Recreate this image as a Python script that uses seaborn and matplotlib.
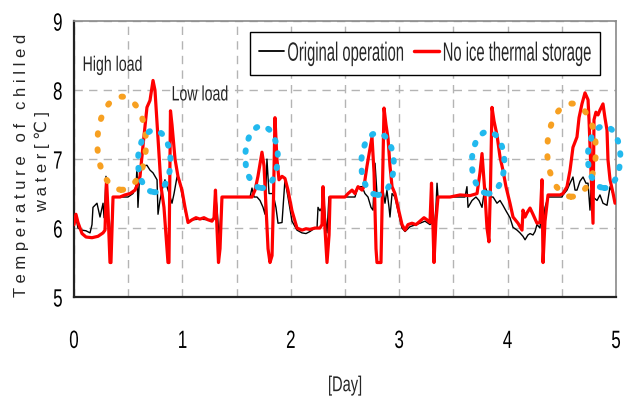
import numpy as np
import pandas as pd
import matplotlib
matplotlib.use("Agg")
import matplotlib.pyplot as plt
import seaborn as sns
from matplotlib.patches import Ellipse
from matplotlib.patheffects import AbstractPathEffect
from matplotlib.transforms import Affine2D, Bbox
from matplotlib.offsetbox import TextArea

# ---------------- data ----------------
red_day = [0.000, 0.018, 0.037, 0.074, 0.111, 0.166, 0.221, 0.268, 0.286, 0.300, 0.314, 0.332, 0.341, 0.360,
           0.424, 0.470, 0.517, 0.563, 0.590, 0.609, 0.637, 0.673, 0.701, 0.729, 0.747, 0.775, 0.803, 0.830,
           0.849, 0.867, 0.876, 0.890, 0.904, 0.932, 0.959, 0.996, 1.024, 1.052, 1.089, 1.125, 1.162, 1.199,
           1.236, 1.273, 1.292, 1.305, 1.319, 1.333, 1.347, 1.365, 1.439, 1.531, 1.642, 1.670, 1.697, 1.734,
           1.753, 1.771, 1.790, 1.808, 1.827, 1.840, 1.854, 1.872, 1.891, 1.919, 1.946, 1.974, 2.011, 2.057,
           2.103, 2.140, 2.177, 2.223, 2.269, 2.288, 2.297, 2.315, 2.334, 2.353, 2.362, 2.454, 2.500, 2.528,
           2.565, 2.592, 2.620, 2.657, 2.675, 2.703, 2.731, 2.749, 2.768, 2.786, 2.795, 2.832, 2.846, 2.860,
           2.878, 2.897, 2.915, 2.934, 2.961, 2.989, 3.026, 3.054, 3.081, 3.118, 3.155, 3.192, 3.229, 3.256,
           3.284, 3.298, 3.312, 3.321, 3.339, 3.358, 3.469, 3.561, 3.653, 3.718, 3.745, 3.764, 3.791, 3.810,
           3.828, 3.842, 3.856, 3.875, 3.902, 3.930, 3.957, 3.985, 4.022, 4.050, 4.096, 4.133, 4.142, 4.161,
           4.179, 4.207, 4.234, 4.271, 4.299, 4.317, 4.327, 4.345, 4.373, 4.483, 4.511, 4.548, 4.576, 4.603,
           4.640, 4.659, 4.686, 4.714, 4.742, 4.751, 4.769, 4.788, 4.797, 4.815, 4.834, 4.852, 4.880, 4.898,
           4.917, 4.926, 4.945, 4.972, 4.991]
red_temp = [6.05, 6.20, 6.08, 5.92, 5.87, 5.86, 5.88, 5.93, 5.97, 6.70, 6.25, 5.50, 5.50, 6.45,
            6.45, 6.48, 6.50, 6.55, 6.65, 6.75, 7.20, 7.75, 7.85, 8.14, 8.00, 7.30, 6.60, 6.30,
            5.90, 5.50, 5.50, 7.70, 7.50, 7.00, 6.75, 6.55, 6.30, 6.08, 6.12, 6.15, 6.13, 6.15,
            6.12, 6.10, 6.15, 6.55, 6.00, 5.50, 5.70, 6.45, 6.45, 6.45, 6.45, 6.55, 6.75, 7.10,
            6.90, 6.30, 5.70, 5.50, 5.60, 6.40, 7.60, 7.00, 6.70, 6.75, 6.72, 6.55, 6.25, 6.00,
            5.97, 5.99, 5.98, 6.00, 6.00, 6.05, 6.60, 6.00, 5.50, 5.90, 6.45, 6.45, 6.45, 6.50,
            6.55, 6.50, 6.60, 6.55, 6.60, 6.90, 7.15, 7.32, 6.80, 5.70, 5.50, 5.50, 6.60, 7.74,
            7.50, 7.30, 6.90, 6.60, 6.50, 6.30, 6.05, 5.97, 6.05, 6.07, 6.05, 6.10, 6.15, 6.12,
            6.08, 6.65, 6.00, 5.50, 6.10, 6.45, 6.45, 6.48, 6.47, 6.50, 6.80, 7.08, 6.50, 6.00,
            5.80, 6.60, 7.75, 7.55, 7.35, 7.03, 6.84, 6.60, 6.36, 6.16, 6.07, 5.97, 6.26, 6.16,
            6.22, 6.29, 6.20, 6.07, 6.08, 6.70, 5.50, 6.10, 6.48, 6.48, 6.50, 6.60, 6.84, 7.17,
            7.32, 7.60, 7.80, 7.96, 7.86, 7.57, 6.84, 6.07, 7.57, 7.68, 7.64, 7.71, 7.80, 7.60,
            7.42, 6.99, 6.70, 6.51, 6.36]

black_day = [0.000, 0.018, 0.037, 0.074, 0.111, 0.148, 0.166, 0.175, 0.212, 0.240, 0.268, 0.277, 0.286,
             0.295, 0.314, 0.332, 0.351, 0.360, 0.498, 0.544, 0.572, 0.581, 0.590, 0.609, 0.637, 0.673,
             0.701, 0.729, 0.747, 0.766, 0.775, 0.793, 0.812, 0.839, 0.858, 0.886, 0.904, 0.923, 0.950,
             0.978, 1.006, 1.033, 1.052, 1.089, 1.162, 1.236, 1.292, 1.305, 1.319, 1.338, 1.356, 1.365,
             1.624, 1.642, 1.661, 1.688, 1.716, 1.744, 1.762, 1.780, 1.799, 1.836, 1.863, 1.882, 1.919,
             1.946, 1.974, 2.011, 2.057, 2.103, 2.140, 2.177, 2.223, 2.242, 2.251, 2.269, 2.288, 2.297,
             2.315, 2.334, 2.352, 2.592, 2.620, 2.657, 2.684, 2.712, 2.740, 2.758, 2.777, 2.795, 2.823,
             2.851, 2.869, 2.887, 2.906, 2.915, 2.934, 2.961, 2.989, 3.026, 3.054, 3.100, 3.192, 3.238,
             3.284, 3.303, 3.321, 3.339, 3.349, 3.358, 3.607, 3.625, 3.635, 3.653, 3.672, 3.708, 3.736,
             3.764, 3.791, 3.819, 3.838, 3.866, 3.902, 3.930, 3.957, 3.985, 4.022, 4.050, 4.087, 4.114,
             4.142, 4.161, 4.188, 4.207, 4.234, 4.253, 4.271, 4.299, 4.317, 4.327, 4.345, 4.373, 4.502,
             4.511, 4.548, 4.576, 4.603, 4.622, 4.640, 4.668, 4.696, 4.723, 4.742, 4.760, 4.769, 4.788,
             4.825, 4.852, 4.880, 4.917, 4.945, 4.972]
black_temp = [6.10, 6.15, 6.00, 5.97, 5.96, 5.93, 6.05, 6.30, 6.36, 6.16, 6.36, 6.15, 6.40,
              6.75, 6.20, 5.78, 6.20, 6.45, 6.45, 6.50, 6.60, 6.88, 6.30, 6.85, 6.90, 6.91,
              6.84, 6.80, 6.75, 6.70, 6.20, 6.40, 6.55, 6.70, 6.60, 6.45, 6.36, 6.50, 6.74,
              6.65, 6.40, 6.20, 6.10, 6.12, 6.13, 6.12, 6.13, 6.50, 6.30, 5.87, 6.20, 6.45,
              6.45, 6.58, 6.45, 6.45, 6.40, 6.30, 6.20, 7.00, 6.50, 6.50, 6.30, 6.07, 6.08,
              6.70, 6.45, 6.10, 5.97, 5.93, 5.92, 5.95, 6.00, 6.00, 6.30, 6.25, 6.30, 6.60,
              6.20, 5.93, 6.45, 6.45, 6.60, 6.60, 6.50, 6.45, 6.30, 6.26, 6.94, 6.50, 6.50,
              6.55, 6.36, 6.55, 6.30, 6.16, 6.50, 6.45, 6.25, 6.00, 5.95, 6.02, 6.07, 6.10,
              6.05, 6.08, 5.95, 6.30, 6.65, 6.45, 6.45, 6.60, 6.30, 6.35, 6.40, 6.45, 6.40,
              6.30, 6.60, 6.50, 6.45, 6.45, 6.36, 6.40, 6.33, 6.25, 6.15, 6.01, 5.97, 5.93,
              5.88, 5.83, 5.90, 5.92, 5.90, 5.95, 6.05, 6.00, 6.36, 6.00, 6.30, 6.45, 6.45,
              6.48, 6.55, 6.65, 6.74, 6.55, 6.55, 6.68, 6.74, 6.65, 6.65, 6.26, 6.55, 6.45,
              6.40, 6.48, 6.36, 6.33, 6.60, 6.50]

series_names = ["Original operation", "No ice thermal storage"]

# dotted highlight ovals (centre day, centre temperature)
orange_oval_x = [0.44, 4.59]
orange_oval_y = [7.23, 7.13]
blue_oval_x = [0.74, 1.73, 2.80, 3.82, 4.89]
blue_oval_y = [6.97, 7.03, 6.93, 6.95, 7.03]

x_ticks = [0, 0.5, 1, 1.5, 2, 2.5, 3, 3.5, 4, 4.5, 5]
x_ticklabels = ["0", "", "1", "", "2", "", "3", "", "4", "", "5"]
y_ticks = [5, 6, 7, 8, 9]


# ---------------- helpers: condensed-looking text ----------------
class Squeeze(AbstractPathEffect):
    """Draw text narrowed along its own direction (mimics a condensed font)."""
    def __init__(self, sx=0.68, anchor=0.0):
        super().__init__()
        self.sx = sx
        self.anchor = anchor

    def draw_path(self, renderer, gc, tpath, affine, rgbFace=None):
        ext = tpath.get_extents()
        a = ext.x0 + (ext.x1 - ext.x0) * self.anchor
        t = Affine2D().translate(-a, 0).scale(self.sx, 1.0).translate(a, 0) + affine
        renderer.draw_path(gc, tpath, t, rgbFace)


SX = 0.68
SX_LEG = 0.56


def squeeze_text(txt, anchor, sx=SX):
    txt.set_path_effects([Squeeze(sx, anchor)])
    orig = txt.get_window_extent

    def _gwe(renderer=None, dpi=None, _o=orig):
        bb = _o(renderer, dpi)
        a = bb.x0 + (bb.x1 - bb.x0) * anchor
        return Bbox.from_extents(a + (bb.x0 - a) * sx, bb.y0, a + (bb.x1 - a) * sx, bb.y1)
    txt.get_window_extent = _gwe


# ---------------- style ----------------
sns.set_theme(style="white")
plt.rcParams['font.family'] = ['Liberation Sans', 'DejaVu Sans']

fig = plt.figure(figsize=(6.25, 3.99), dpi=100)
ax = fig.add_axes([0.1184, 0.2556, 0.8672, 0.6914])

df_black = pd.DataFrame({"day": black_day, "temp": black_temp})
df_red = pd.DataFrame({"day": red_day, "temp": red_temp})

sns.lineplot(data=df_black, x="day", y="temp", ax=ax, color="black", lw=1.0,
             estimator=None, sort=False, label=series_names[0], zorder=3)
sns.lineplot(data=df_red, x="day", y="temp", ax=ax, color="#ff0000", lw=2.3,
             estimator=None, sort=False, label=series_names[1], zorder=4)

for cx, cy in zip(orange_oval_x, orange_oval_y):
    ax.add_patch(Ellipse((cx, cy), 0.45, 1.35, fill=False, edgecolor="#f7a021",
                         lw=4.3, ls=(0, (0.25, 2.45)), capstyle="round", zorder=6, clip_on=False))
for cx, cy in zip(blue_oval_x, blue_oval_y):
    ax.add_patch(Ellipse((cx, cy), 0.30, 0.90, fill=False, edgecolor="#22b9ee",
                         lw=4.3, ls=(0, (0.25, 2.0)), capstyle="round", zorder=6, clip_on=False))

ax.set_xlim(0, 5)
ax.set_ylim(5, 9)
ax.set_xticks(x_ticks)
ax.set_xticklabels(x_ticklabels)
ax.set_yticks(y_ticks)
ax.tick_params(axis="both", direction="in", length=7, width=1.2, colors="#222222",
               labelsize=18, labelcolor="black")
ax.tick_params(axis="x", pad=23)
ax.tick_params(axis="y", pad=8)

ax.grid(True, color="#b4b4b4", lw=1.0, ls=(0, (6, 4.5)))
ax.set_axisbelow(True)

for side in ["left", "bottom"]:
    ax.spines[side].set_color("#222222")
    ax.spines[side].set_linewidth(1.6)
for side in ["top", "right"]:
    ax.spines[side].set_color("#8a8a8a")
    ax.spines[side].set_linewidth(1.2)

ax.set_xlabel("[Day]", fontsize=15.5, labelpad=16)
squeeze_text(ax.xaxis.label, 0.5)
ax.set_ylabel("")

for lbl in ax.get_xticklabels():
    squeeze_text(lbl, 0.5)
for lbl in ax.get_yticklabels():
    squeeze_text(lbl, 1.0)

fig.text(0.035, 0.586, "T e m p e r a t u r e   o f   c h i l l e d", rotation=90,
         ha="center", va="center", fontsize=12)
fig.text(0.068, 0.594, "w a t e r [ ℃ ]", rotation=90, ha="center", va="center", fontsize=12)

t1 = ax.text(0.074, 8.36, "High load", fontsize=15, ha="left", va="center")
t2 = ax.text(0.895, 7.93, "Low load", fontsize=15, ha="left", va="center")
for t in (t1, t2):
    squeeze_text(t, 0.0)

leg = ax.legend(loc="upper right", bbox_to_anchor=(0.9705, 0.960), borderaxespad=0,
                ncol=2, fontsize=19, frameon=True, fancybox=False, handlelength=0.95,
                handletextpad=0.1, columnspacing=0.4, borderpad=0.36)
leg.get_frame().set_edgecolor("black")
leg.get_frame().set_linewidth(1.0)
leg.get_frame().set_alpha(1)
for line in leg.get_lines():
    line.set_linewidth(1.3 if line.get_color() in ("black", "k") else 2.5)

# narrow the legend text boxes to match the squeezed text
for ta in leg.findobj(TextArea):
    squeeze_text(ta._text, 0.0, SX_LEG)
    orig = ta.get_bbox

    def _bbox(renderer, _orig=orig):
        bb = _orig(renderer)
        return Bbox.from_bounds(bb.x0, bb.y0, bb.width * SX_LEG, bb.height)
    ta.get_bbox = _bbox

fig.savefig("out.png", dpi=100)
